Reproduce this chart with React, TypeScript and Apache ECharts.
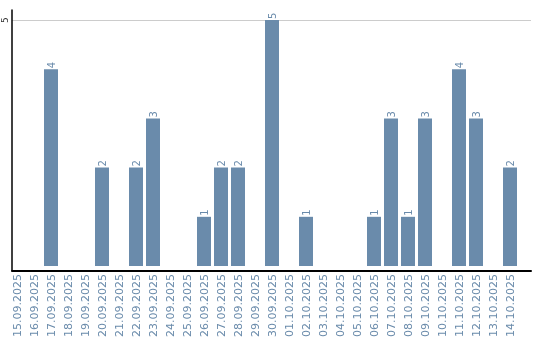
import React, { useEffect, useRef } from "react";
import * as echarts from "echarts";

const categories = [
  "15.09.2025", "16.09.2025", "17.09.2025", "18.09.2025", "19.09.2025",
  "20.09.2025", "21.09.2025", "22.09.2025", "23.09.2025", "24.09.2025",
  "25.09.2025", "26.09.2025", "27.09.2025", "28.09.2025", "29.09.2025",
  "30.09.2025", "01.10.2025", "02.10.2025", "03.10.2025", "04.10.2025",
  "05.10.2025", "06.10.2025", "07.10.2025", "08.10.2025", "09.10.2025",
  "10.10.2025", "11.10.2025", "12.10.2025", "13.10.2025", "14.10.2025",
];
const values = [
  0, 0, 4, 0, 0, 2, 0, 2, 3, 0,
  0, 1, 2, 2, 0, 5, 0, 1, 0, 0,
  0, 1, 3, 1, 3, 0, 4, 3, 0, 2,
];

const BLUE = "#6a8bab";

export default function App() {
  const ref = useRef<HTMLDivElement>(null);
  useEffect(() => {
    if (!ref.current) return;
    const chart = echarts.init(ref.current, undefined, { renderer: "svg" });
    chart.setOption({
      animation: false,
      grid: [
        { left: 10.5, right: 9, top: 10, bottom: 69.5 },
        { left: 8.5, right: 21.5, top: 20, bottom: 69.5 },
      ],
      xAxis: [
        {
          type: "category",
          gridIndex: 0,
          data: categories,
          axisLine: { show: true, lineStyle: { color: "#000", width: 2 } },
          axisTick: { show: false },
          axisLabel: { show: false },
          splitLine: { show: false },
        },
        {
          type: "category",
          gridIndex: 1,
          data: categories,
          axisLine: { show: false },
          axisTick: { show: false },
          axisLabel: {
            rotate: 90,
            interval: 0,
            margin: 8,
            color: BLUE,
            fontSize: 11,
            fontFamily: "DejaVu Sans",
          },
        },
      ],
      yAxis: [
        {
          type: "value",
          gridIndex: 0,
          min: 0,
          max: 5.2,
          interval: 5,
          axisLine: { show: true, lineStyle: { color: "#000", width: 1.5 } },
          axisTick: { show: false },
          axisLabel: {
            showMinLabel: false,
            showMaxLabel: false,
            rotate: 90,
            margin: 3,
            color: "#333",
            fontSize: 9,
            fontFamily: "DejaVu Sans",
          },
          splitLine: {
            show: true,
            showMinLine: false,
            showMaxLine: false,
            lineStyle: { color: "#cccccc", width: 1 },
          },
        },
        {
          type: "value",
          gridIndex: 1,
          min: 0,
          max: 5,
          interval: 5,
          axisLine: { show: false },
          axisTick: { show: false },
          axisLabel: { show: false },
          splitLine: { show: false },
        },
      ],
      series: [
        {
          type: "bar",
          xAxisIndex: 1,
          yAxisIndex: 1,
          data: values,
          barWidth: 14,
          itemStyle: { color: BLUE },
          label: {
            show: true,
            position: "top",
            rotate: 90,
            align: "left",
            verticalAlign: "middle",
            distance: 1,
            color: BLUE,
            fontSize: 10,
            fontFamily: "DejaVu Sans",
            formatter: (p: any) => (p.value ? String(p.value) : ""),
          },
        },
      ],
    });
    return () => chart.dispose();
  }, []);
  return (
    <div
      ref={ref}
      style={{ position: "fixed", left: 0, top: 0, width: 540, height: 340 }}
    />
  );
}
